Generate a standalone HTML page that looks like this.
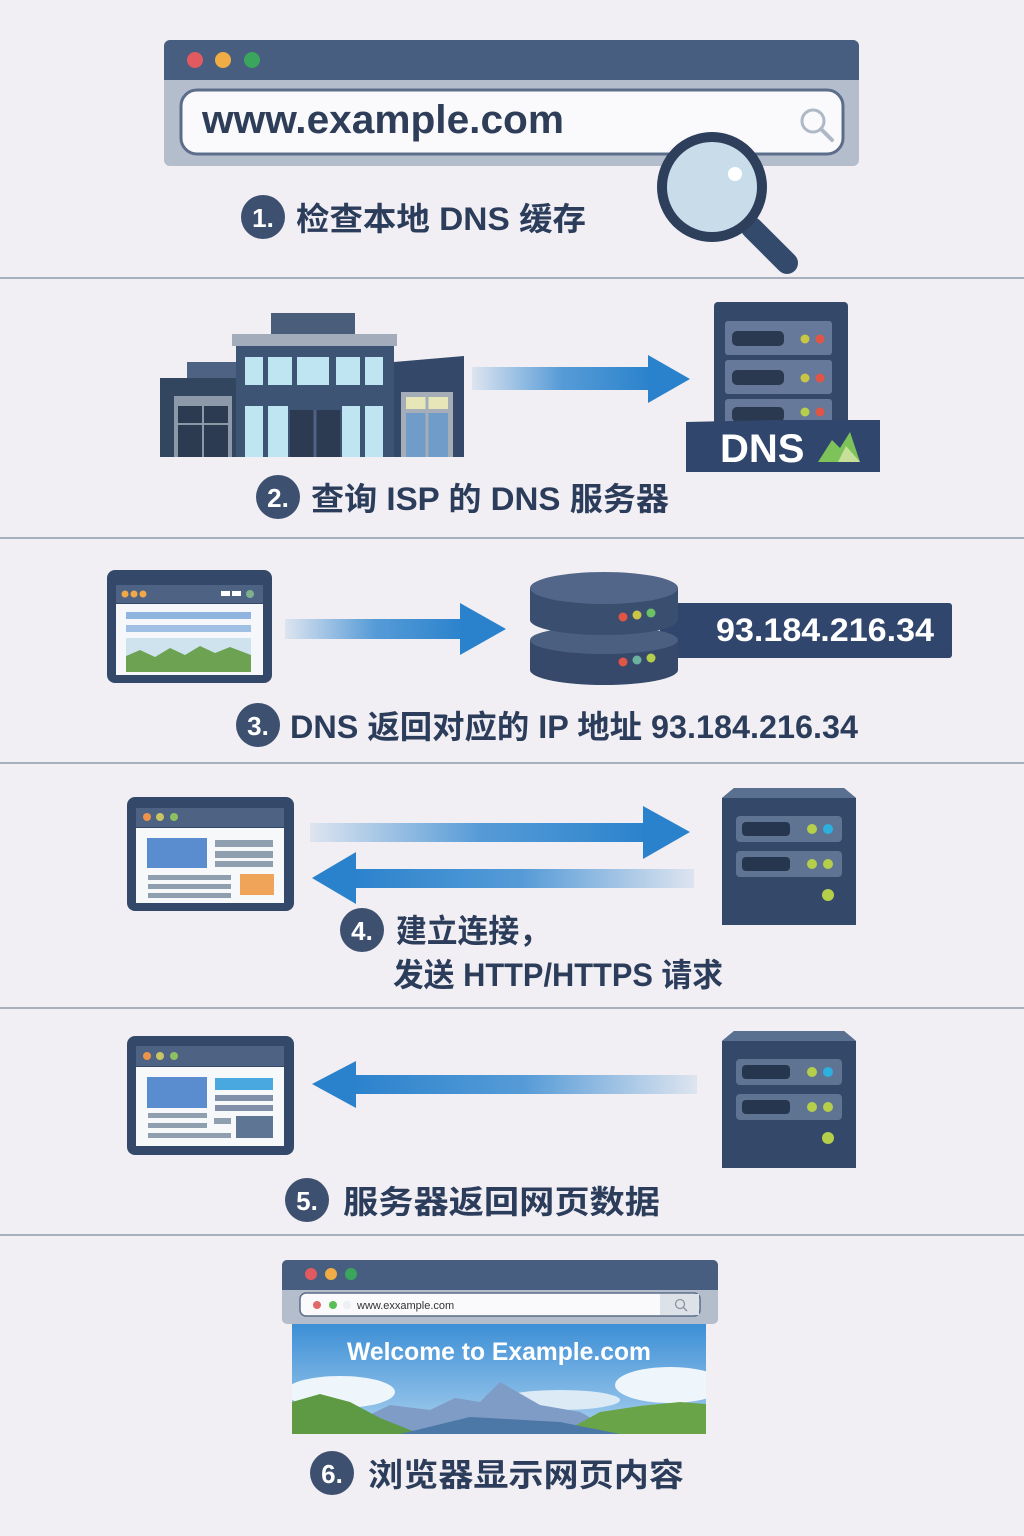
<!DOCTYPE html>
<html><head><meta charset="utf-8"><style>
html,body{margin:0;padding:0;background:#f1eff3;}
svg{display:block;}
.lbl{font-family:"Liberation Sans","Noto Sans CJK SC",sans-serif;font-weight:bold;fill:#2c3d5c;font-size:32px;}
.num{font-family:"Liberation Sans",sans-serif;font-weight:bold;fill:#fff;font-size:26px;}
</style></head><body>
<svg width="1024" height="1536" viewBox="0 0 1024 1536" xmlns="http://www.w3.org/2000/svg">
<defs>
<linearGradient id="gr" x1="0" x2="1"><stop offset="0" stop-color="#2f86d0" stop-opacity="0.1"/><stop offset="0.5" stop-color="#2f86d0" stop-opacity="0.8"/><stop offset="1" stop-color="#2a82cc"/></linearGradient>
<linearGradient id="gl" x1="1" x2="0"><stop offset="0" stop-color="#2f86d0" stop-opacity="0.1"/><stop offset="0.5" stop-color="#2f86d0" stop-opacity="0.8"/><stop offset="1" stop-color="#2a82cc"/></linearGradient>
<linearGradient id="sky" x1="0" y1="0" x2="0" y2="1"><stop offset="0" stop-color="#3d8fd6"/><stop offset="1" stop-color="#a9d0ee"/></linearGradient>
<clipPath id="imgclip"><rect x="292" y="1324" width="414" height="110"/></clipPath>
<g id="srv">
<path d="M0 10 L12 0 L122 0 L134 10 L134 137 L0 137 Z" fill="#34496a"/>
<rect x="0" y="10" width="134" height="127" fill="#34496a"/>
<path d="M0 10 L12 0 L122 0 L134 10 Z" fill="#5a7090"/>
<rect x="14" y="28" width="106" height="26" rx="4" fill="#5f7492"/>
<rect x="20" y="34" width="48" height="14" rx="4" fill="#27364f"/>
<circle cx="90" cy="41" r="5" fill="#b6cf4a"/><circle cx="106" cy="41" r="5" fill="#2bb0e0"/>
<rect x="14" y="63" width="106" height="26" rx="4" fill="#5f7492"/>
<rect x="20" y="69" width="48" height="14" rx="4" fill="#27364f"/>
<circle cx="90" cy="76" r="5" fill="#b6cf4a"/><circle cx="106" cy="76" r="5" fill="#b6cf4a"/>
<circle cx="106" cy="107" r="6" fill="#b6cf4a"/>
</g>
</defs>
<rect width="1024" height="1536" fill="#f1eff3"/>
<g stroke="#a8afbd" stroke-width="2">
<line x1="0" y1="278" x2="1024" y2="278"/><line x1="0" y1="538" x2="1024" y2="538"/>
<line x1="0" y1="763" x2="1024" y2="763"/><line x1="0" y1="1008" x2="1024" y2="1008"/>
<line x1="0" y1="1235" x2="1024" y2="1235"/>
</g>

<!-- section 1 -->
<rect x="164" y="40" width="695" height="126" rx="6" fill="#b4bdcc"/>
<path d="M164 80 V46 a6 6 0 0 1 6 -6 H853 a6 6 0 0 1 6 6 V80 Z" fill="#485e80"/>
<circle cx="195" cy="60" r="8" fill="#e15a5f"/><circle cx="223" cy="60" r="8" fill="#f0ac45"/><circle cx="252" cy="60" r="8" fill="#3aa55c"/>
<rect x="181" y="90" width="662" height="64" rx="16" fill="#fafafc" stroke="#5b6d8a" stroke-width="3"/>
<text x="202" y="133" font-family="Liberation Sans,sans-serif" font-size="40" font-weight="bold" fill="#2f3e58" textLength="362" lengthAdjust="spacingAndGlyphs">www.example.com</text>
<circle cx="813" cy="121" r="11" fill="none" stroke="#aeb8c7" stroke-width="3"/><line x1="821" y1="129" x2="832" y2="140" stroke="#aeb8c7" stroke-width="4" stroke-linecap="round"/>
<line x1="752" y1="228" x2="787" y2="263" stroke="#344a6c" stroke-width="22" stroke-linecap="round"/>
<circle cx="712" cy="187" r="50" fill="#c8dde9" stroke="#2e3f5c" stroke-width="10"/>
<circle cx="735" cy="174" r="7" fill="#fff"/>
<circle cx="263" cy="217" r="22" fill="#3d5070"/><text x="263" y="227" text-anchor="middle" class="num">1.</text>
<text x="296" y="230" class="lbl" textLength="290" lengthAdjust="spacingAndGlyphs">检查本地 DNS 缓存</text>

<!-- section 2 building -->
<rect x="271" y="313" width="84" height="22" fill="#4a5e7c"/>
<rect x="232" y="334" width="165" height="12" fill="#a2acba"/>
<rect x="187" y="362" width="50" height="20" fill="#4e6283"/>
<rect x="160" y="378" width="80" height="79" fill="#33465f"/>
<rect x="174" y="396" width="58" height="61" fill="#8d99a8"/>
<rect x="178" y="406" width="50" height="51" fill="#2c3b52"/>
<line x1="203" y1="406" x2="203" y2="457" stroke="#8d99a8" stroke-width="2"/><line x1="178" y1="424" x2="228" y2="424" stroke="#8d99a8" stroke-width="2"/>
<rect x="236" y="346" width="158" height="111" fill="#3d5475"/>
<g fill="#bfe4f2">
<rect x="245" y="357" width="18" height="28"/><rect x="268" y="357" width="24" height="28"/><rect x="297" y="357" width="32" height="28"/><rect x="336" y="357" width="24" height="28"/><rect x="365" y="357" width="18" height="28"/>
<rect x="245" y="406" width="18" height="51"/><rect x="268" y="406" width="20" height="51"/><rect x="342" y="406" width="18" height="51"/><rect x="365" y="406" width="18" height="51"/>
</g>
<rect x="290" y="410" width="50" height="47" fill="#2c3b52"/><line x1="315" y1="410" x2="315" y2="457" stroke="#4e6283" stroke-width="3"/>
<path d="M394 362 L464 356 L464 457 L394 457 Z" fill="#34486a"/>
<rect x="401" y="392" width="52" height="65" fill="#a5adb8"/>
<rect x="406" y="397" width="42" height="12" fill="#e7e6b8"/>
<rect x="406" y="413" width="42" height="44" fill="#6f9cc8"/>
<line x1="427" y1="397" x2="427" y2="457" stroke="#a5adb8" stroke-width="3"/>
<!-- arrow 2 -->
<rect x="472" y="367" width="180" height="23" fill="url(#gr)"/>
<path d="M648 355 L690 379 L648 403 Z" fill="#2a82cc"/>
<!-- DNS server -->
<rect x="714" y="302" width="134" height="130" rx="4" fill="#34496a"/>
<g fill="#66799a">
<rect x="725" y="321" width="107" height="34" rx="3"/><rect x="725" y="360" width="107" height="34" rx="3"/><rect x="725" y="399" width="107" height="30" rx="3"/>
</g>
<g fill="#2a394f"><rect x="732" y="331" width="52" height="15" rx="5"/><rect x="732" y="370" width="52" height="15" rx="5"/><rect x="732" y="407" width="52" height="15" rx="5"/></g>
<g><circle cx="805" cy="339" r="4.5" fill="#c9c545"/><circle cx="820" cy="339" r="4.5" fill="#e05545"/>
<circle cx="805" cy="378" r="4.5" fill="#c9c545"/><circle cx="820" cy="378" r="4.5" fill="#e05545"/>
<circle cx="805" cy="412" r="4.5" fill="#b6cf4a"/><circle cx="820" cy="412" r="4.5" fill="#e05545"/></g>
<path d="M686 422 L772 420 L880 420 L880 472 L686 472 Z" fill="#30466d"/>
<text x="720" y="462" font-family="Liberation Sans,sans-serif" font-weight="bold" font-size="40" fill="#fff">DNS</text>
<path d="M818 462 L832 440 L840 448 L850 432 L860 462 Z" fill="#7ec25a"/>
<path d="M838 462 L846 446 L860 462 Z" fill="#c6e09a"/>
<circle cx="278" cy="497" r="22" fill="#3d5070"/><text x="278" y="507" text-anchor="middle" class="num">2.</text>
<text x="311" y="510" class="lbl" textLength="358" lengthAdjust="spacingAndGlyphs">查询 ISP 的 DNS 服务器</text>

<!-- section 3 -->
<rect x="107" y="570" width="165" height="113" rx="8" fill="#34496a"/>
<rect x="116" y="585" width="147" height="18" fill="#4e6384"/>
<circle cx="125" cy="594" r="3.5" fill="#f0a848"/><circle cx="134" cy="594" r="3.5" fill="#f0a848"/><circle cx="143" cy="594" r="3.5" fill="#f0a848"/>
<rect x="221" y="591" width="9" height="5" fill="#fff"/><rect x="232" y="591" width="9" height="5" fill="#fff"/><circle cx="250" cy="594" r="4" fill="#7fb08e"/>
<rect x="116" y="604" width="147" height="71" fill="#f5f7fa"/>
<rect x="126" y="612" width="125" height="7" fill="#8fb4df"/><rect x="126" y="625" width="125" height="7" fill="#9fc0e4"/>
<rect x="126" y="638" width="125" height="34" fill="#cfe3ef"/>
<path d="M126 672 L126 656 L140 650 L155 657 L170 648 L185 655 L200 646 L215 653 L230 647 L251 655 L251 672 Z" fill="#6ea253"/>
<rect x="285" y="619" width="180" height="20" fill="url(#gr)"/>
<path d="M460 603 L506 629 L460 655 Z" fill="#2a82cc"/>
<rect x="660" y="603" width="292" height="55" rx="3" fill="#30466d"/>
<text x="716" y="641" font-family="Liberation Sans,sans-serif" font-weight="bold" font-size="32" fill="#fff" textLength="218" lengthAdjust="spacingAndGlyphs">93.184.216.34</text>
<path d="M530 640 V670 A74 15 0 0 0 678 670 V640 Z" fill="#36496a"/>
<ellipse cx="604" cy="640" rx="74" ry="14" fill="#4b5f80"/>
<path d="M530 588 V620 A74 15 0 0 0 678 620 V588 Z" fill="#3a4e70"/>
<ellipse cx="604" cy="588" rx="74" ry="16" fill="#52668a"/>
<circle cx="623" cy="617" r="4.5" fill="#e05545"/><circle cx="637" cy="615" r="4.5" fill="#c9c545"/><circle cx="651" cy="613" r="4.5" fill="#6cc065"/>
<circle cx="623" cy="662" r="4.5" fill="#e05545"/><circle cx="637" cy="660" r="4.5" fill="#6cb0a0"/><circle cx="651" cy="658" r="4.5" fill="#b6cf4a"/>
<circle cx="258" cy="725" r="22" fill="#3d5070"/><text x="258" y="735" text-anchor="middle" class="num">3.</text>
<text x="290" y="738" class="lbl" textLength="568" lengthAdjust="spacingAndGlyphs">DNS 返回对应的 IP 地址 93.184.216.34</text>

<!-- section 4 -->
<rect x="127" y="797" width="167" height="114" rx="8" fill="#34496a"/>
<rect x="136" y="808" width="148" height="19" fill="#4e6384"/>
<circle cx="147" cy="817" r="4" fill="#f0924a"/><circle cx="160" cy="817" r="4" fill="#c9c565"/><circle cx="174" cy="817" r="4" fill="#8cc060"/>
<rect x="136" y="828" width="148" height="75" fill="#f7f8fa"/>
<rect x="147" y="838" width="60" height="30" fill="#5a8dd0"/>
<rect x="215" y="840" width="58" height="7" fill="#8f9fb0"/><rect x="215" y="851" width="58" height="7" fill="#8f9fb0"/><rect x="215" y="861" width="58" height="6" fill="#8f9fb0"/>
<rect x="148" y="875" width="83" height="5" fill="#8f9fb0"/><rect x="148" y="884" width="83" height="5" fill="#8f9fb0"/><rect x="148" y="893" width="83" height="5" fill="#8f9fb0"/>
<rect x="240" y="874" width="34" height="21" fill="#f0a45a"/>
<rect x="310" y="823" width="340" height="19" fill="url(#gr)"/>
<path d="M643 806 L690 832 L643 859 Z" fill="#2a82cc"/>
<rect x="350" y="869" width="344" height="19" fill="url(#gl)"/>
<path d="M356 852 L312 878 L356 904 Z" fill="#2a82cc"/>
<use href="#srv" x="722" y="788"/>
<circle cx="362" cy="930" r="22" fill="#3d5070"/><text x="362" y="940" text-anchor="middle" class="num">4.</text>
<text x="396" y="942" class="lbl" textLength="154" lengthAdjust="spacingAndGlyphs">建立连接，</text>
<text x="393" y="986" class="lbl" textLength="330" lengthAdjust="spacingAndGlyphs">发送 HTTP/HTTPS 请求</text>

<!-- section 5 -->
<rect x="127" y="1036" width="167" height="119" rx="8" fill="#34496a"/>
<rect x="136" y="1046" width="148" height="20" fill="#4e6384"/>
<circle cx="147" cy="1056" r="4" fill="#f0924a"/><circle cx="160" cy="1056" r="4" fill="#c9c565"/><circle cx="174" cy="1056" r="4" fill="#8cc060"/>
<rect x="136" y="1067" width="148" height="79" fill="#f7f8fa"/>
<rect x="147" y="1077" width="60" height="31" fill="#5a8dd0"/>
<rect x="215" y="1078" width="58" height="12" fill="#4aa8e0"/><rect x="215" y="1095" width="58" height="6" fill="#7f90a8"/><rect x="215" y="1105" width="58" height="6" fill="#7f90a8"/>
<rect x="148" y="1113" width="59" height="5" fill="#8f9fb0"/><rect x="148" y="1123" width="59" height="5" fill="#8f9fb0"/><rect x="148" y="1133" width="83" height="5" fill="#8f9fb0"/>
<rect x="214" y="1118" width="17" height="6" fill="#8f9fb0"/><rect x="236" y="1116" width="37" height="22" fill="#5f7594"/>
<rect x="350" y="1075" width="347" height="19" fill="url(#gl)"/>
<path d="M356 1061 L312 1084 L356 1108 Z" fill="#2a82cc"/>
<use href="#srv" x="722" y="1031"/>
<circle cx="307" cy="1200" r="22" fill="#3d5070"/><text x="307" y="1210" text-anchor="middle" class="num">5.</text>
<text x="343" y="1213" class="lbl" textLength="317" lengthAdjust="spacingAndGlyphs">服务器返回网页数据</text>

<!-- section 6 -->
<rect x="282" y="1260" width="436" height="64" rx="5" fill="#b4bdcc"/>
<path d="M282 1290 V1265 a5 5 0 0 1 5 -5 H713 a5 5 0 0 1 5 5 V1290 Z" fill="#485e80"/>
<circle cx="311" cy="1274" r="6" fill="#e15a5f"/><circle cx="331" cy="1274" r="6" fill="#f0ac45"/><circle cx="351" cy="1274" r="6" fill="#3aa55c"/>
<rect x="300" y="1293" width="400" height="23" rx="6" fill="#fafafc" stroke="#5b6d8a" stroke-width="1.5"/>
<rect x="660" y="1294" width="39" height="21" fill="#dde1e8"/>
<circle cx="317" cy="1305" r="4" fill="#e06a6a"/><circle cx="333" cy="1305" r="4" fill="#5ac055"/><circle cx="347" cy="1305" r="4" fill="#eef0f3"/>
<text x="357" y="1309" font-family="Liberation Sans,sans-serif" font-size="11" fill="#333">www.exxample.com</text>
<circle cx="680" cy="1304" r="4.5" fill="none" stroke="#8b95a5" stroke-width="1.3"/><line x1="683" y1="1307" x2="687" y2="1311" stroke="#8b95a5" stroke-width="1.5"/>
<g clip-path="url(#imgclip)">
<rect x="292" y="1324" width="414" height="110" fill="url(#sky)"/>
<ellipse cx="340" cy="1392" rx="55" ry="16" fill="#eef5fb"/>
<ellipse cx="670" cy="1385" rx="55" ry="18" fill="#eef5fb"/>
<ellipse cx="560" cy="1400" rx="60" ry="10" fill="#dbeaf5"/>
<path d="M330 1434 L390 1405 L430 1410 L455 1398 L480 1402 L500 1382 L540 1405 L580 1412 L620 1434 Z" fill="#7e9cc6"/>
<path d="M292 1434 L292 1402 L320 1394 L350 1402 L380 1418 L420 1434 Z" fill="#5e9a44"/>
<path d="M560 1434 L600 1412 L640 1406 L680 1402 L706 1404 L706 1434 Z" fill="#6aa449"/>
<path d="M400 1434 L470 1417 L560 1422 L620 1434 Z" fill="#4c78a8"/>
</g>
<text x="499" y="1360" text-anchor="middle" font-family="Liberation Sans,sans-serif" font-weight="bold" font-size="25" fill="#fff" textLength="304" lengthAdjust="spacingAndGlyphs">Welcome to Example.com</text>
<circle cx="332" cy="1473" r="22" fill="#3d5070"/><text x="332" y="1483" text-anchor="middle" class="num">6.</text>
<text x="368" y="1486" class="lbl" textLength="316" lengthAdjust="spacingAndGlyphs">浏览器显示网页内容</text>
</svg>
</body></html>
